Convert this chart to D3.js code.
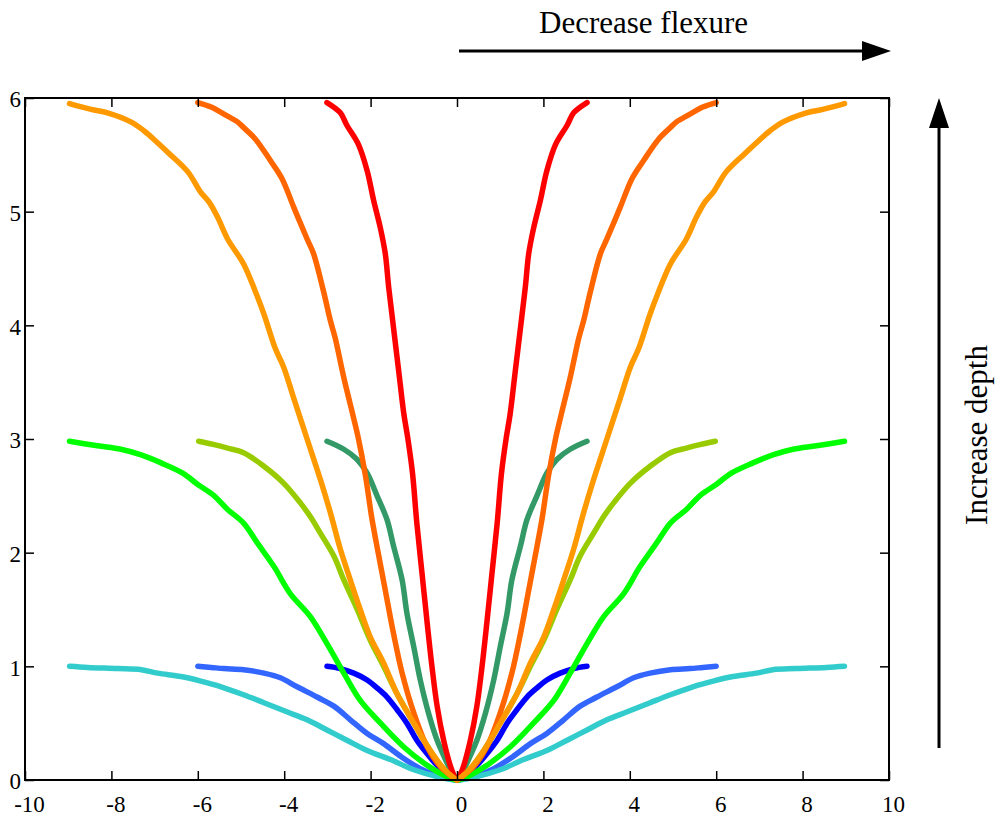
<!DOCTYPE html>
<html>
<head>
<meta charset="utf-8">
<script src="https://cdn.jsdelivr.net/npm/d3@7"></script>
<style>
  body { margin: 0; background: #fff; }
  svg text { font-family: "Liberation Serif", "Times New Roman", serif; fill: #000; }
</style>
</head>
<body>
<svg id="chart" width="999" height="819"></svg>
<script>
// right half of each curve, [x, depth]; left half is its mirror image
const blue = [[0,0],[0.23,0.06],[0.46,0.13],[0.69,0.23],[0.93,0.35],[1.16,0.50],[1.39,0.62],[1.62,0.73],[1.85,0.81],[2.08,0.88],[2.39,0.94],[2.70,0.98],[3.01,1.00]];
const royal = [[0,0],[0.46,0.04],[0.85,0.10],[1.31,0.21],[1.70,0.32],[2.08,0.41],[2.47,0.53],[2.85,0.65],[3.24,0.73],[3.70,0.82],[4.09,0.90],[4.47,0.94],[4.94,0.97],[5.39,0.98],[5.69,0.99],[6.00,1.00]];
const cyan = [[0,0],[0.46,0.03],[1.00,0.09],[1.54,0.18],[2.08,0.26],[2.55,0.35],[3.01,0.44],[3.47,0.53],[3.94,0.60],[4.47,0.68],[4.94,0.75],[5.46,0.82],[5.93,0.87],[6.39,0.91],[6.93,0.94],[7.31,0.97],[7.85,0.98],[8.55,0.99],[8.97,1.00]];
const seaGreen = [[0,0],[0.08,0.03],[0.23,0.15],[0.46,0.35],[0.66,0.59],[0.85,0.88],[1.00,1.17],[1.16,1.47],[1.27,1.76],[1.47,2.06],[1.62,2.29],[1.85,2.50],[2.08,2.70],[2.31,2.82],[2.62,2.91],[3.01,2.98]];
const yellowGreen = [[0,0],[0.31,0.10],[0.62,0.26],[1.00,0.50],[1.39,0.76],[1.70,1.00],[2.01,1.23],[2.31,1.50],[2.62,1.76],[2.85,1.97],[3.16,2.17],[3.40,2.32],[3.63,2.44],[4.01,2.61],[4.47,2.76],[4.94,2.88],[5.31,2.92],[5.62,2.95],[5.98,2.98]];
const green = [[0,0],[0.39,0.06],[0.77,0.15],[1.23,0.29],[1.77,0.50],[2.24,0.70],[2.62,0.94],[3.01,1.20],[3.40,1.44],[3.86,1.64],[4.24,1.88],[4.63,2.09],[4.94,2.26],[5.31,2.38],[5.62,2.50],[6.00,2.60],[6.35,2.70],[6.85,2.79],[7.31,2.86],[7.78,2.91],[8.32,2.94],[8.97,2.98]];
const red = [[0,0],[0.04,0.02],[0.15,0.12],[0.31,0.35],[0.46,0.65],[0.58,1.00],[0.69,1.38],[0.81,1.82],[0.93,2.26],[1.03,2.70],[1.14,3.01],[1.23,3.22],[1.35,3.60],[1.47,3.98],[1.58,4.33],[1.66,4.63],[1.77,4.85],[1.93,5.10],[2.08,5.36],[2.28,5.59],[2.55,5.76],[2.70,5.87],[3.01,5.96]];
const orangeRed = [[0,0],[0.08,0.02],[0.39,0.12],[0.69,0.29],[1.00,0.59],[1.27,0.94],[1.47,1.29],[1.66,1.67],[1.81,1.97],[1.97,2.30],[2.12,2.68],[2.28,3.00],[2.39,3.18],[2.62,3.54],[2.82,3.89],[2.93,4.04],[3.09,4.30],[3.32,4.63],[3.47,4.76],[3.78,5.04],[4.05,5.29],[4.32,5.45],[4.67,5.64],[4.94,5.74],[5.08,5.79],[5.31,5.84],[5.69,5.92],[6.00,5.96]];
const orange = [[0,0],[0.08,0.02],[0.31,0.10],[0.62,0.26],[1.00,0.50],[1.39,0.76],[1.70,1.03],[2.01,1.26],[2.24,1.50],[2.47,1.76],[2.70,2.03],[2.93,2.35],[3.16,2.64],[3.47,3.00],[3.78,3.36],[4.01,3.63],[4.21,3.80],[4.47,4.10],[4.67,4.30],[4.94,4.54],[5.31,4.76],[5.54,4.95],[5.73,5.08],[5.93,5.17],[6.23,5.35],[6.66,5.51],[6.97,5.62],[7.24,5.71],[7.55,5.79],[8.09,5.87],[8.47,5.90],[8.97,5.95]];

// plotting order, later ones on top
const curves = [blue, royal, cyan, seaGreen, yellowGreen, green, red, orangeRed, orange];
const colors = ["#0000ff", "#3366ff", "#33cccc", "#339966", "#99cc00", "#00ff00", "#ff0000", "#ff6600", "#ff9900"];

const xTicks = [-10, -8, -6, -4, -2, 0, 2, 4, 6, 8, 10];
const yTicks = [0, 1, 2, 3, 4, 5, 6];

const plotL = 25, plotR = 889, plotT = 98, plotB = 780;

const svg = d3.select("#chart");

const x = d3.scaleLinear().domain([-10, 10]).range([plotL, plotR]);
const y = d3.scaleLinear().domain([0, 6]).range([plotB, plotT]);

const line = d3.line()
  .x(d => x(d[0]))
  .y(d => y(d[1]))
  .curve(d3.curveCatmullRom.alpha(0.5));

// curves: mirrored left half + right half
curves.forEach((c, i) => {
  let pts = c.slice().reverse().map(d => [-d[0], d[1]]).concat(c.slice(1));
  svg.append("path")
    .attr("d", line(pts))
    .attr("fill", "none")
    .attr("stroke", colors[i])
    .attr("stroke-width", 5.5)
    .attr("stroke-linecap", "round")
    .attr("stroke-linejoin", "round");
});

// axes (ticks point inward)
let fmt = d => String(d);

svg.append("g")
  .attr("transform", "translate(0," + plotB + ")")
  .call(d3.axisBottom(x).tickValues(xTicks).tickFormat(fmt).tickSizeInner(-9).tickSizeOuter(0).tickPadding(16))
  .call(g => g.selectAll("text").attr("font-size", 23).attr("dx", 4));

svg.append("g")
  .attr("transform", "translate(0," + plotT + ")")
  .call(d3.axisTop(x).tickValues(xTicks).tickFormat("").tickSizeInner(-9).tickSizeOuter(0));

svg.append("g")
  .attr("transform", "translate(" + plotL + ",0)")
  .call(d3.axisLeft(y).tickValues(yTicks).tickFormat(fmt).tickSizeInner(-9).tickSizeOuter(0).tickPadding(4))
  .call(g => g.selectAll("text").attr("font-size", 23).attr("dy", "0.38em"));

svg.append("g")
  .attr("transform", "translate(" + plotR + ",0)")
  .call(d3.axisRight(y).tickValues(yTicks).tickFormat("").tickSizeInner(-9).tickSizeOuter(0));

svg.selectAll(".domain").remove();
svg.selectAll(".tick line").attr("stroke", "#000").attr("stroke-width", 1.5);

// box
svg.append("rect")
  .attr("x", plotL).attr("y", plotT)
  .attr("width", plotR - plotL).attr("height", plotB - plotT)
  .attr("fill", "none")
  .attr("stroke", "#000")
  .attr("stroke-width", 2);

// annotations
svg.append("line")
  .attr("x1", 459).attr("y1", 51).attr("x2", 864).attr("y2", 51)
  .attr("stroke", "#000").attr("stroke-width", 3);
svg.append("path")
  .attr("d", "M862,41 L891,51 L862,61 Z")
  .attr("fill", "#000");
svg.append("text")
  .attr("x", 539).attr("y", 33)
  .attr("font-size", 31)
  .text("Decrease flexure");

svg.append("line")
  .attr("x1", 939).attr("y1", 748).attr("x2", 939).attr("y2", 126)
  .attr("stroke", "#000").attr("stroke-width", 3);
svg.append("path")
  .attr("d", "M929,128 L939,98 L949,128 Z")
  .attr("fill", "#000");
svg.append("text")
  .attr("transform", "translate(987,435) rotate(-90)")
  .attr("text-anchor", "middle")
  .attr("font-size", 31)
  .text("Increase depth");
</script>
</body>
</html>
